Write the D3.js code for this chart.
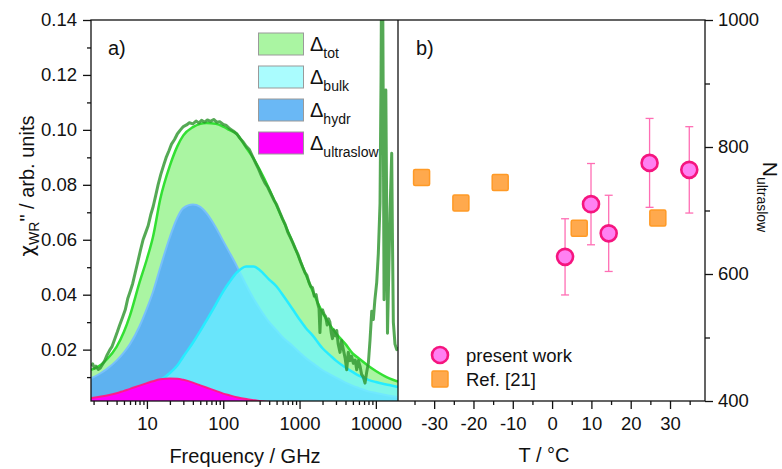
<!DOCTYPE html>
<html>
<head>
<meta charset="utf-8">
<script src="https://cdn.jsdelivr.net/npm/d3@7"></script>
<style>
  body { margin: 0; background: #fff; }
  text { font-family: "Liberation Sans", Arial, sans-serif; fill: #111; }
</style>
</head>
<body>
<div id="chart"></div>
<script>
// ---- panel a) model curves, all on one frequency grid (GHz) ----
const freqGrid = [1.85, 2, 2.5, 3, 4, 5, 6, 8, 10, 12, 15, 20, 25, 30, 40, 50, 60, 80, 100, 120, 150,
  200, 250, 300, 400, 500, 600, 800, 1000, 1200, 1500, 2000, 2500, 3000, 4000, 5000, 6000, 8000, 10000, 15000, 19500];
const totModel = [0.0127, 0.0130, 0.0145, 0.0165, 0.0210, 0.0265, 0.0325, 0.0445, 0.0530, 0.0610, 0.0750,
  0.0870, 0.0940, 0.0980, 0.1010, 0.1022, 0.1025, 0.1022, 0.1012, 0.1000, 0.0985,
  0.0935, 0.0895, 0.0855, 0.0785, 0.0725, 0.0675, 0.0595, 0.0530, 0.0475, 0.0410, 0.0335, 0.0290, 0.0260,
  0.0220, 0.0185, 0.0168, 0.0140, 0.0122, 0.0095, 0.0084];
const hydrModel = [0.0096, 0.0100, 0.0115, 0.0130, 0.0160, 0.0190, 0.0220, 0.0285, 0.0350, 0.0410, 0.0500,
  0.0610, 0.0680, 0.0715, 0.0728, 0.0720, 0.0698, 0.0645, 0.0595, 0.0555, 0.0505,
  0.0435, 0.0385, 0.0350, 0.0300, 0.0270, 0.0245, 0.0215, 0.0190, 0.0170, 0.0150, 0.0125, 0.0110, 0.0098,
  0.0080, 0.0068, 0.0060, 0.0048, 0.0042, 0.0032, 0.0027];
const bulkModel = [0.0011, 0.0012, 0.0015, 0.0018, 0.0024, 0.0030, 0.0036, 0.0048, 0.0060, 0.0072, 0.0088,
  0.0115, 0.0142, 0.0175, 0.0225, 0.0268, 0.0305, 0.0365, 0.0412, 0.0445, 0.0480,
  0.0503, 0.0503, 0.0490, 0.0455, 0.0430, 0.0400, 0.0350, 0.0310, 0.0280, 0.0250, 0.0205, 0.0180, 0.0160,
  0.0135, 0.0118, 0.0105, 0.0090, 0.0082, 0.0071, 0.0064];
const ultraModel = [0.0024, 0.0025, 0.0029, 0.0033, 0.0041, 0.0050, 0.0057, 0.0069, 0.0078, 0.0085, 0.0092,
  0.0095, 0.0094, 0.0090, 0.0080, 0.0070, 0.0062, 0.0050, 0.0040, 0.0034, 0.0027,
  0.0020, 0.0016, 0.0013, 0.0010, 0.0008, 0.0007, 0.0006, 0.0005, 0.0005, 0.0004, 0.0004, 0.0003, 0.0003,
  0.0003, 0.0002, 0.0002, 0.0002, 0.0002, 0.0001, 0.0001];

// measured spectrum (GHz, chi'')
const expFreq = [1.87, 1.95, 2.05, 2.15, 2.3, 2.45, 2.6, 2.8, 3.0, 3.25, 3.5, 3.8, 4.1, 4.4, 4.8, 5.2, 5.6, 6.0, 6.5,
  7.0, 7.6, 8.2, 8.9, 9.6, 10.4, 11.2, 12.1, 13.0, 14.0, 15.2, 16.5, 18.0, 19.5, 21, 23, 25, 27.5, 30, 33, 36,
  40, 44, 48, 52, 57, 62, 68, 75, 82, 90, 100, 110, 122, 135, 150, 165, 180, 200, 220, 240, 265, 290, 320, 350,
  385, 420, 460, 500, 550, 600, 650, 700, 760, 820, 880, 950, 1030, 1100, 1180, 1250, 1330, 1400, 1480, 1560,
  1650, 1720, 1800, 1850, 1900, 2000, 2100, 2200, 2300, 2400, 2500, 2600, 2700, 2800, 2950, 3070, 3200, 3390,
  3550, 3750, 3950, 4150, 4350, 4585, 4800, 5070, 5350, 5610, 5900, 6200, 6500, 6855, 7210, 7600, 7970, 8390,
  8830, 9270, 9700, 10260, 10770, 11340, 11700, 11930, 12200, 12530, 12800, 13190, 13500, 13870, 14200, 14550,
  15330, 16130, 16500, 16940, 17800, 18740, 19400];
const expChi = [0.0140, 0.0148, 0.0132, 0.0140, 0.0128, 0.0133, 0.0145, 0.0160, 0.0180, 0.0198, 0.0212, 0.0240,
  0.0265, 0.0290, 0.0318, 0.0345, 0.0385, 0.0410, 0.0440, 0.0478, 0.0520, 0.0560, 0.0600, 0.0625, 0.0652,
  0.0690, 0.0722, 0.0760, 0.0800, 0.0838, 0.0870, 0.0902, 0.0925, 0.0948, 0.0965, 0.0985, 0.1000, 0.1012,
  0.1018, 0.1026, 0.1022, 0.1032, 0.1025, 0.1035, 0.1028, 0.1036, 0.1031, 0.1038, 0.1028, 0.1030, 0.1020,
  0.1016, 0.1004, 0.0996, 0.0986, 0.0970, 0.0958, 0.0940, 0.0928, 0.0905, 0.0880, 0.0858, 0.0830, 0.0808,
  0.0790, 0.0768, 0.0745, 0.0728, 0.0700, 0.0675, 0.0655, 0.0628, 0.0608, 0.0588, 0.0568, 0.0548, 0.0520,
  0.0500, 0.0480, 0.0470, 0.0445, 0.0430, 0.0425, 0.0395, 0.0400, 0.0370, 0.0350, 0.0262, 0.0340, 0.0345,
  0.0328, 0.0320, 0.0290, 0.0312, 0.0300, 0.0262, 0.0240, 0.0272, 0.0250, 0.0270, 0.0222, 0.0190, 0.0232,
  0.0200, 0.0170, 0.0127, 0.0190, 0.0160, 0.0176, 0.0150, 0.0162, 0.0127, 0.0160, 0.0140, 0.0110, 0.0100,
  0.0078, 0.0120, 0.0150, 0.0236, 0.0340, 0.0310, 0.0380, 0.0445, 0.0550, 0.0733, 0.1200, 0.1700, 0.1700,
  0.1000, 0.0382, 0.0600, 0.1145, 0.0700, 0.0260, 0.0400, 0.0700, 0.0915, 0.0600, 0.0300, 0.0220, 0.0200,
  0.0210];

const legendKeys = ["tot", "bulk", "hydr", "ultraslow"];

// ---- panel b) ----
const presentT = [3.3, 9.9, 14.4, 24.8, 34.9];
const presentN = [627, 710, 664, 775, 764];
const presentErr = [60, 64, 60, 70, 68];
const refT = [-33.2, -23.2, -13.2, 6.9, 26.9];
const refN = [752, 712, 744, 672, 688];

const freqMajor = [10, 100, 1000, 10000];
const chiMajor = [0.02, 0.04, 0.06, 0.08, 0.10, 0.12, 0.14];
const chiMinor = [0.01, 0.03, 0.05, 0.07, 0.09, 0.11, 0.13];
const tMajor = [-30, -20, -10, 0, 10, 20, 30];
const tMinor = [-35, -25, -15, -5, 5, 15, 25, 35];
const nMajor = [400, 600, 800, 1000];
const nMinor = [500, 700, 900];

const fontFam = '"Liberation Sans", Arial, sans-serif';
const plotTop = 20, plotBottom = 401;
const aLeft = 91, split = 398, bRight = 705;

const svg = d3.select("#chart").append("svg").attr("width", 782).attr("height", 469);

const xL = d3.scaleLog().domain([1.85, 19500]).range([aLeft, split]);
const yL = d3.scaleLinear().domain([0.0013, 0.14]).range([plotBottom, plotTop]);
const xR = d3.scaleLinear().domain([-39.2, 38.9]).range([split, bRight]);
const yR = d3.scaleLinear().domain([400, 1000]).range([plotBottom, plotTop]);

svg.append("defs").append("clipPath").attr("id", "clipA")
  .append("rect").attr("x", aLeft).attr("y", plotTop).attr("width", split - aLeft).attr("height", plotBottom - plotTop);

const rows = freqGrid.map((f, i) => ({ f, tot: totModel[i], hydr: hydrModel[i], bulk: bulkModel[i], ultra: ultraModel[i] }));

const areaFor = (key) => d3.area().x((d) => xL(d.f)).y0(plotBottom).y1((d) => yL(d[key])).curve(d3.curveMonotoneX);
const lineFor = (key) => d3.line().x((d) => xL(d.f)).y((d) => yL(d[key])).curve(d3.curveMonotoneX);

const pa = svg.append("g").attr("clip-path", "url(#clipA)");

pa.append("path").datum(rows).attr("d", areaFor("tot")).attr("fill", "#aaf5a2");
pa.append("path").datum(rows).attr("d", areaFor("hydr")).attr("fill", "#5eb2f0");
pa.append("path").datum(rows).attr("d", lineFor("hydr")).attr("fill", "none").attr("stroke", "#78c0fb").attr("stroke-width", 2);
pa.append("path").datum(rows).attr("d", areaFor("bulk")).attr("fill", "#6ef6ff").attr("fill-opacity", 0.75);
pa.append("path").datum(rows).attr("d", lineFor("bulk")).attr("fill", "none").attr("stroke", "#26ecff").attr("stroke-width", 2.5);
pa.append("path").datum(rows).attr("d", areaFor("ultra")).attr("fill", "#ff00ff");
pa.append("path").datum(rows).attr("d", lineFor("ultra")).attr("fill", "none").attr("stroke", "#ff1a8c").attr("stroke-width", 2);
pa.append("path").datum(rows).attr("d", lineFor("tot")).attr("fill", "none").attr("stroke", "#33e033").attr("stroke-width", 2.5);

const expRows = expFreq.map((f, i) => ({ f, v: expChi[i] }));
pa.append("path").datum(expRows)
  .attr("d", d3.line().x((d) => xL(d.f)).y((d) => yL(d.v)))
  .attr("fill", "none").attr("stroke", "#2f962f").attr("stroke-opacity", 0.82)
  .attr("stroke-width", 3).attr("stroke-linejoin", "round");

// legend panel a
const legColors = ["#aaf5a2", "#aafcfe", "#6ab8f5", "#ff00ff"];
legendKeys.forEach((k, i) => {
  const y0 = 33 + i * 33;
  svg.append("rect").attr("x", 258.5).attr("y", y0).attr("width", 45).attr("height", 22)
    .attr("fill", legColors[i]).attr("stroke", "#9a9a9a").attr("stroke-width", 1);
  const t = svg.append("text").attr("x", 310).attr("y", y0 + 18).style("font-size", "20px").text("Δ");
  t.append("tspan").attr("dy", 7).style("font-size", "14px").text(k);
});

// panel b: error bars, squares, circles
const pb = svg.append("g");
presentT.forEach((T, i) => {
  const x = xR(T), y1 = yR(presentN[i] - presentErr[i]), y2 = yR(presentN[i] + presentErr[i]);
  pb.append("line").attr("x1", x).attr("x2", x).attr("y1", y1).attr("y2", y2);
  pb.append("line").attr("x1", x - 4).attr("x2", x + 4).attr("y1", y1).attr("y2", y1);
  pb.append("line").attr("x1", x - 4).attr("x2", x + 4).attr("y1", y2).attr("y2", y2);
});
pb.selectAll("line").attr("stroke", "#ff6eb4").attr("stroke-width", 1.3);

pb.selectAll(".ref").data(refT).enter().append("rect").attr("class", "ref")
  .attr("x", (d) => xR(d) - 8).attr("y", (d, i) => yR(refN[i]) - 8)
  .attr("width", 16).attr("height", 16).attr("rx", 1.5)
  .attr("fill", "#ffa94d").attr("stroke", "#ff9a26").attr("stroke-width", 1.5);

pb.selectAll(".pw").data(presentT).enter().append("circle").attr("class", "pw")
  .attr("cx", (d) => xR(d)).attr("cy", (d, i) => yR(presentN[i])).attr("r", 8)
  .attr("fill", "#ff80f2").attr("stroke", "#f5157f").attr("stroke-width", 2.6);

// legend panel b
svg.append("circle").attr("cx", 440).attr("cy", 355).attr("r", 8)
  .attr("fill", "#ff80f2").attr("stroke", "#f5157f").attr("stroke-width", 2.6);
svg.append("rect").attr("x", 432).attr("y", 371).attr("width", 16).attr("height", 16).attr("rx", 1.5)
  .attr("fill", "#ffa94d").attr("stroke", "#ff9a26").attr("stroke-width", 1.5);
svg.append("text").attr("x", 466).attr("y", 362).style("font-size", "18.5px").text("present work");
svg.append("text").attr("x", 466).attr("y", 386).style("font-size", "18.5px").text("Ref. [21]");

// axes
const styleAxis = (g) => {
  g.select(".domain").remove();
  g.attr("font-size", 18.5).attr("font-family", fontFam);
  g.selectAll("line").attr("stroke", "#111").attr("stroke-width", 1.3);
  g.selectAll("text").attr("fill", "#111");
};

const minorFreq = [];
[1, 10, 100, 1000, 10000].forEach((d) => { for (let m = 2; m <= 9; m++) if (d * m <= 19500) minorFreq.push(d * m); });

svg.append("g").attr("transform", `translate(0,${plotBottom})`)
  .call(d3.axisBottom(xL).tickValues(freqMajor).tickFormat((d) => d).tickSize(8).tickPadding(8)).call(styleAxis);
svg.append("g").attr("transform", `translate(0,${plotBottom})`)
  .call(d3.axisBottom(xL).tickValues(minorFreq).tickFormat("").tickSize(4)).call(styleAxis);

svg.append("g").attr("transform", `translate(${aLeft},0)`)
  .call(d3.axisLeft(yL).tickValues(chiMajor).tickFormat(d3.format(".2f")).tickSize(8).tickPadding(6)).call(styleAxis);
svg.append("g").attr("transform", `translate(${aLeft},0)`)
  .call(d3.axisLeft(yL).tickValues(chiMinor).tickFormat("").tickSize(4)).call(styleAxis);

svg.append("g").attr("transform", `translate(0,${plotBottom})`)
  .call(d3.axisBottom(xR).tickValues(tMajor).tickFormat((d) => String(d)).tickSize(8).tickPadding(8)).call(styleAxis);
svg.append("g").attr("transform", `translate(0,${plotBottom})`)
  .call(d3.axisBottom(xR).tickValues(tMinor).tickFormat("").tickSize(4)).call(styleAxis);

svg.append("g").attr("transform", `translate(${bRight},0)`)
  .call(d3.axisRight(yR).tickValues(nMajor).tickFormat((d) => String(d)).tickSize(8).tickPadding(5)).call(styleAxis);
svg.append("g").attr("transform", `translate(${bRight},0)`)
  .call(d3.axisRight(yR).tickValues(nMinor).tickFormat("").tickSize(5)).call(styleAxis);

// frame
svg.append("rect").attr("x", aLeft).attr("y", plotTop).attr("width", bRight - aLeft).attr("height", plotBottom - plotTop)
  .attr("fill", "none").attr("stroke", "#111").attr("stroke-width", 1.3);
svg.append("line").attr("x1", split).attr("x2", split).attr("y1", plotTop).attr("y2", plotBottom)
  .attr("stroke", "#111").attr("stroke-width", 1.3);

// labels
svg.append("text").attr("x", 108).attr("y", 55).style("font-size", "20px").text("a)");
svg.append("text").attr("x", 416).attr("y", 55).style("font-size", "20px").text("b)");
svg.append("text").attr("x", 245).attr("y", 463).attr("text-anchor", "middle").style("font-size", "20px").text("Frequency / GHz");
svg.append("text").attr("x", 544).attr("y", 461.5).attr("text-anchor", "middle").style("font-size", "20px").text("T / °C");

const yt = svg.append("text").attr("transform", "translate(34,186) rotate(-90)").attr("text-anchor", "middle").style("font-size", "20px");
yt.append("tspan").style("font-family", '"DejaVu Sans", sans-serif').text("χ");
yt.append("tspan").attr("dy", 5).style("font-size", "14px").text("WR");
yt.append("tspan").attr("dy", -5).text("\" / arb. units");

const nt = svg.append("text").attr("transform", "translate(763,197) rotate(90)").attr("text-anchor", "middle").style("font-size", "21px");
nt.append("tspan").text("N");
nt.append("tspan").attr("dy", 6).style("font-size", "14px").text("ultraslow");
</script>
</body>
</html>
